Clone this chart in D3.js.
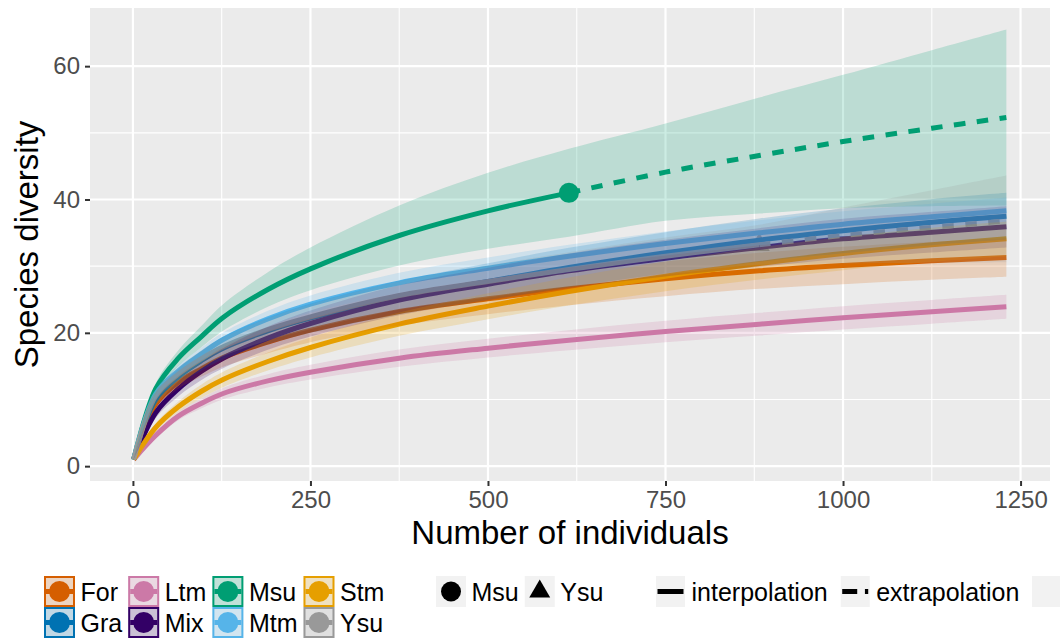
<!DOCTYPE html>
<html>
<head>
<meta charset="utf-8">
<script src="https://cdn.jsdelivr.net/npm/d3@7/dist/d3.min.js"></script>
<style>
  body { margin: 0; background: #ffffff; }
  text { font-family: "Liberation Sans", Arial, Helvetica, sans-serif; }
</style>
</head>
<body>
<svg id="chart" width="1060" height="641"></svg>
<script>
// Sample sizes (number of individuals) at which the curves are evaluated
const sampleSizes = [1, 32, 64, 96, 127, 190, 250, 375, 500, 614, 750, 882, 1000, 1125, 1230];

// Sites, colours and the observed sample size of sites whose curve is extrapolated
const sites = ["For", "Gra", "Ltm", "Mix", "Msu", "Mtm", "Stm", "Ysu"];
const siteColors = ["#D55E00", "#0072B2", "#CC79A7", "#330066", "#009E73", "#56B4E9", "#E69F00", "#999999"];
const observedSizes = [null, null, null, null, 614, null, null, 882];

// Estimated species diversity with lower / upper 95% bounds, per site
const forEst = [1, 9.3, 12.6, 14.6, 16.3, 18.6, 20.4, 23.2, 25.1, 26.6, 28.1, 29.3, 30.1, 30.8, 31.3];
const forLow = [1, 8.6, 11.6, 13.4, 14.9, 16.95, 18.6, 21.1, 22.8, 24.15, 25.5, 26.6, 27.3, 27.95, 28.4];
const forUpp = [1, 10.0, 13.6, 15.8, 17.7, 20.25, 22.2, 25.3, 27.4, 29.05, 30.7, 32.0, 32.9, 33.65, 34.2];

const graEst = [1, 10.0, 13.4, 15.8, 17.7, 20.3, 22.2, 25.3, 27.7, 29.8, 32.0, 33.9, 35.3, 36.6, 37.5];
const graLow = [1, 9.1, 12.2, 14.3, 16.0, 18.3, 20.0, 22.8, 24.95, 26.85, 28.9, 30.65, 31.95, 33.15, 34.0];
const graUpp = [1, 10.9, 14.6, 17.3, 19.4, 22.3, 24.4, 27.8, 30.45, 32.75, 35.1, 37.15, 38.65, 40.05, 41.0];

const ltmEst = [1, 4.6, 7.5, 9.4, 10.9, 12.8, 14.1, 16.2, 17.7, 18.9, 20.2, 21.3, 22.25, 23.15, 23.9];
const ltmLow = [1, 4.15, 6.9, 8.65, 10.05, 11.8, 13.0, 14.9, 16.3, 17.4, 18.6, 19.6, 20.5, 21.37, 22.1];
const ltmUpp = [1, 5.05, 8.1, 10.15, 11.75, 13.8, 15.2, 17.5, 19.1, 20.4, 21.8, 23.0, 24.0, 24.93, 25.7];

const mixEst = [1, 8.0, 11.6, 14.2, 16.2, 19.2, 21.4, 24.9, 27.3, 29.3, 31.2, 32.8, 34.1, 35.1, 35.9];
const mixLow = [1, 7.2, 10.5, 12.9, 14.7, 17.45, 19.45, 22.65, 24.85, 26.7, 28.45, 29.9, 31.1, 32.05, 32.8];
const mixUpp = [1, 8.8, 12.7, 15.5, 17.7, 20.95, 23.35, 27.15, 29.75, 31.9, 33.95, 35.7, 37.1, 38.15, 39.0];

const msuEst = [1, 11.6, 16.2, 19.4, 22.3, 26.5, 29.6, 34.6, 38.3, 41.0, 44.1, 46.6, 48.7, 50.7, 52.3];
const msuLow = [1, 10.8, 15.0, 17.8, 20.3, 23.9, 26.4, 30.1, 32.6, 34.4, 36.8, 37.9, 38.7, 39.0, 39.1];
const msuUpp = [1, 12.4, 17.4, 21.0, 24.3, 29.1, 32.8, 39.1, 44.0, 47.6, 51.4, 55.3, 58.7, 62.4, 65.5];

const mtmEst = [1, 10.8, 14.3, 16.8, 19.0, 22.1, 24.3, 27.5, 29.7, 31.5, 33.4, 35.0, 36.3, 37.4, 38.3];
const mtmLow = [1, 10.2, 13.5, 15.85, 17.95, 20.9, 23.0, 26.0, 28.1, 29.8, 31.6, 33.12, 34.37, 35.43, 36.3];
const mtmUpp = [1, 11.4, 15.1, 17.75, 20.05, 23.3, 25.6, 29.0, 31.3, 33.2, 35.2, 36.88, 38.23, 39.37, 40.3];

const stmEst = [1, 5.8, 8.9, 11.2, 13.0, 15.7, 17.8, 21.3, 24.0, 26.2, 28.5, 30.4, 31.9, 33.2, 34.1];
const stmLow = [1, 5.2, 8.1, 10.2, 11.85, 14.35, 16.3, 19.55, 22.05, 24.1, 26.25, 28.0, 29.4, 30.65, 31.5];
const stmUpp = [1, 6.4, 9.7, 12.2, 14.15, 17.05, 19.3, 23.05, 25.95, 28.3, 30.75, 32.8, 34.4, 35.75, 36.7];

const ysuEst = [1, 10.5, 13.8, 16.1, 17.9, 20.5, 22.4, 25.6, 27.7, 29.5, 31.5, 33.2, 34.6, 35.8, 36.8];
const ysuLow = [1, 9.8, 12.8, 14.9, 16.5, 18.85, 20.55, 23.45, 25.3, 26.9, 28.7, 30.2, 30.4, 30.5, 30.6];
const ysuUpp = [1, 11.2, 14.8, 17.3, 19.3, 22.15, 24.25, 27.75, 30.1, 32.1, 34.3, 36.2, 38.8, 41.4, 43.6];

// Axis ticks
const xTicks = [0, 250, 500, 750, 1000, 1250];
const xMinorTicks = [125, 375, 625, 875, 1125];
const yTicks = [0, 20, 40, 60];
const yMinorTicks = [10, 30, 50];

// Legend entries
const shapeSites = ["Msu", "Ysu"];
const methodLabels = ["interpolation", "extrapolation"];

const estimates = [forEst, graEst, ltmEst, mixEst, msuEst, mtmEst, stmEst, ysuEst];
const lowers = [forLow, graLow, ltmLow, mixLow, msuLow, mtmLow, stmLow, ysuLow];
const uppers = [forUpp, graUpp, ltmUpp, mixUpp, msuUpp, mtmUpp, stmUpp, ysuUpp];

const series = sites.map((site, i) => ({
  site,
  color: siteColors[i],
  observed: observedSizes[i],
  points: sampleSizes.map((n, j) => ({ n, est: estimates[i][j], lo: lowers[i][j], hi: uppers[i][j] }))
}));

// ---- layout ----
const svg = d3.select("#chart");
const panel = { left: 90, right: 1050, top: 8, bottom: 481 };

const x = d3.scaleLinear().domain([-60.45, 1291.45]).range([panel.left, panel.right]);
const y = d3.scaleLinear().domain([-2.225, 68.725]).range([panel.bottom, panel.top]);

// panel background
svg.append("rect")
  .attr("x", panel.left).attr("y", panel.top)
  .attr("width", panel.right - panel.left).attr("height", panel.bottom - panel.top)
  .attr("fill", "#EBEBEB");

const grid = svg.append("g");
grid.selectAll(".xminor").data(xMinorTicks).join("line")
  .attr("x1", d => x(d)).attr("x2", d => x(d))
  .attr("y1", panel.top).attr("y2", panel.bottom)
  .attr("stroke", "#fff").attr("stroke-width", 1.1);
grid.selectAll(".yminor").data(yMinorTicks).join("line")
  .attr("y1", d => y(d)).attr("y2", d => y(d))
  .attr("x1", panel.left).attr("x2", panel.right)
  .attr("stroke", "#fff").attr("stroke-width", 1.1);
grid.selectAll(".xmajor").data(xTicks).join("line")
  .attr("x1", d => x(d)).attr("x2", d => x(d))
  .attr("y1", panel.top).attr("y2", panel.bottom)
  .attr("stroke", "#fff").attr("stroke-width", 2.2);
grid.selectAll(".ymajor").data(yTicks).join("line")
  .attr("y1", d => y(d)).attr("y2", d => y(d))
  .attr("x1", panel.left).attr("x2", panel.right)
  .attr("stroke", "#fff").attr("stroke-width", 2.2);

const plot = svg.append("g");
const curve = d3.curveCatmullRom.alpha(0.5);

// observed-sample markers
series.forEach(s => {
  if (s.observed == null) return;
  const p = s.points.find(d => d.n === s.observed);
  const shape = s.site === "Msu" ? d3.symbolCircle : d3.symbolTriangle;
  const size = s.site === "Msu" ? Math.PI * 10 * 10 : 190;
  plot.append("path")
    .attr("d", d3.symbol().type(shape).size(size)())
    .attr("transform", `translate(${x(p.n)},${y(p.est)})`)
    .attr("fill", s.color);
});

// curves: solid for interpolation, dashed for extrapolation
const line = d3.line().x(d => x(d.n)).y(d => y(d.est)).curve(curve);
series.forEach(s => {
  const obs = s.observed == null ? Infinity : s.observed;
  const interp = s.points.filter(d => d.n <= obs);
  const extrap = s.points.filter(d => d.n >= obs);
  plot.append("path").attr("d", line(interp))
    .attr("fill", "none").attr("stroke", s.color).attr("stroke-width", 5);
  if (extrap.length > 1) {
    plot.append("path").attr("d", line(extrap))
      .attr("fill", "none").attr("stroke", s.color).attr("stroke-width", 5)
      .attr("stroke-dasharray", "11.5,11.5");
  }
});

// confidence bands on top, translucent
const area = d3.area().x(d => x(d.n)).y0(d => y(d.lo)).y1(d => y(d.hi)).curve(curve);
series.forEach(s => {
  plot.append("path").attr("d", area(s.points))
    .attr("fill", s.color).attr("fill-opacity", 0.2);
});

// axes
const yAxis = svg.append("g").attr("transform", `translate(${panel.left},0)`)
  .call(d3.axisLeft(y).tickValues(yTicks).tickSize(5).tickPadding(5));
const xAxis = svg.append("g").attr("transform", `translate(0,${panel.bottom})`)
  .call(d3.axisBottom(x).tickValues(xTicks).tickSize(5).tickPadding(5).tickFormat(d3.format("d")));
[xAxis, yAxis].forEach(a => {
  a.select(".domain").remove();
  a.selectAll(".tick line").attr("stroke", "#333333").attr("stroke-width", 2);
  a.selectAll(".tick text").attr("fill", "#4D4D4D").style("font-size", "24px")
    .style("font-family", "'Liberation Sans', Arial, sans-serif");
});

svg.append("text")
  .attr("x", (panel.left + panel.right) / 2).attr("y", 544)
  .attr("text-anchor", "middle").style("font-size", "33px").attr("fill", "#000")
  .text("Number of individuals");
svg.append("text")
  .attr("transform", `translate(38,${(panel.top + panel.bottom) / 2}) rotate(-90)`)
  .attr("text-anchor", "middle").style("font-size", "33px").attr("fill", "#000")
  .text("Species diversity");

// ---- legends ----
const keySize = 31;
const rowTop = [576, 607];
const legend = svg.append("g");
const labelSize = "25px";

// colour / fill legend: two rows, filled column by column
let colX = 44;
for (let c = 0; c < 4; c++) {
  let maxW = 0;
  for (let r = 0; r < 2; r++) {
    const k = c * 2 + r;
    const kx = colX, ky = rowTop[r];
    legend.append("rect").attr("x", kx).attr("y", ky).attr("width", keySize).attr("height", keySize)
      .attr("fill", "#F2F2F2");
    legend.append("rect").attr("x", kx + 1).attr("y", ky + 1).attr("width", keySize - 2).attr("height", keySize - 2)
      .attr("fill", siteColors[k]).attr("fill-opacity", 0.2)
      .attr("stroke", siteColors[k]).attr("stroke-width", 2);
    legend.append("circle").attr("cx", kx + keySize / 2).attr("cy", ky + keySize / 2).attr("r", 10.5)
      .attr("fill", siteColors[k]);
    legend.append("line").attr("x1", kx + 2).attr("x2", kx + keySize - 2)
      .attr("y1", ky + keySize / 2).attr("y2", ky + keySize / 2)
      .attr("stroke", siteColors[k]).attr("stroke-width", 5);
    const t = legend.append("text").attr("x", kx + keySize + 5.5).attr("y", ky + keySize / 2 + 9)
      .style("font-size", labelSize).text(sites[k]);
    maxW = Math.max(maxW, t.node().getComputedTextLength());
  }
  colX = colX + keySize + 5.5 + maxW + 6;
}

// shape legend
let sx = 436;
shapeSites.forEach((name, i) => {
  legend.append("rect").attr("x", sx).attr("y", rowTop[0]).attr("width", keySize - 1).attr("height", keySize)
    .attr("fill", "#F2F2F2");
  legend.append("path")
    .attr("d", d3.symbol().type(i === 0 ? d3.symbolCircle : d3.symbolTriangle).size(i === 0 ? Math.PI * 100 : 190)())
    .attr("transform", `translate(${sx + 15},${rowTop[0] + keySize / 2})`)
    .attr("fill", "#000");
  const t = legend.append("text").attr("x", sx + 35.5).attr("y", rowTop[0] + keySize / 2 + 9)
    .style("font-size", labelSize).text(name);
  sx = sx + 35.5 + t.node().getComputedTextLength() + 6;
});

// linetype legend
let lx = 656;
methodLabels.forEach((name, i) => {
  legend.append("rect").attr("x", lx).attr("y", rowTop[0]).attr("width", 29).attr("height", keySize)
    .attr("fill", "#F2F2F2");
  legend.append("line").attr("x1", lx + 1.5).attr("x2", lx + 27.5)
    .attr("y1", rowTop[0] + keySize / 2).attr("y2", rowTop[0] + keySize / 2)
    .attr("stroke", "#000").attr("stroke-width", 5)
    .attr("stroke-dasharray", i === 0 ? null : "15,7.7");
  const t = legend.append("text").attr("x", lx + 35.5).attr("y", rowTop[0] + keySize / 2 + 9)
    .style("font-size", labelSize).text(name);
  lx = lx + 35.5 + t.node().getComputedTextLength() + 13;
});
legend.append("rect").attr("x", 1032).attr("y", rowTop[0]).attr("width", 28).attr("height", keySize)
  .attr("fill", "#F2F2F2");
</script>
</body>
</html>
